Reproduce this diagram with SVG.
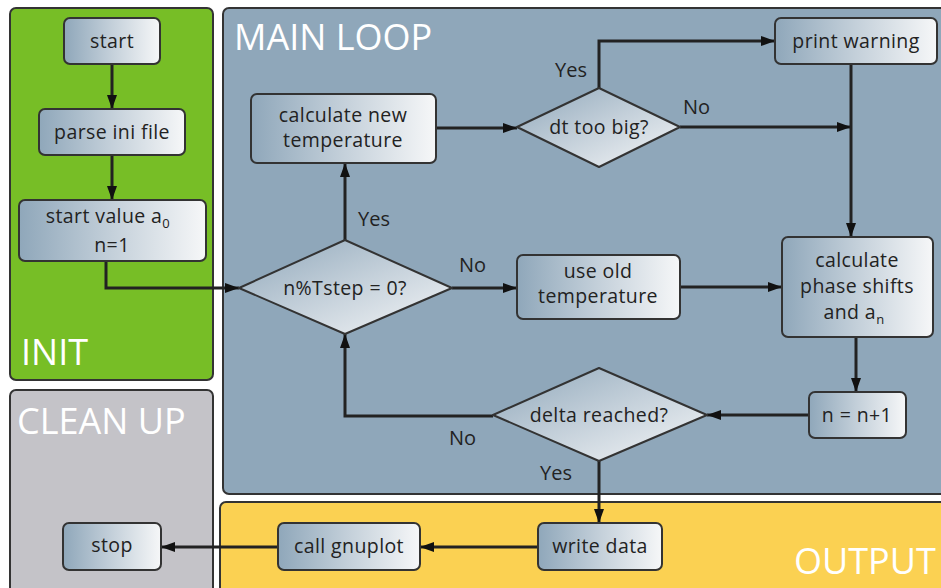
<svg xmlns="http://www.w3.org/2000/svg" width="941" height="588" viewBox="0 0 941 588">
<defs>
<linearGradient id="gbox" x1="0" y1="0" x2="1" y2="0">
<stop offset="0" stop-color="#8fa7ba"/><stop offset="0.5" stop-color="#c4d0da"/><stop offset="1" stop-color="#f6f7f8"/>
</linearGradient>
<linearGradient id="gdia" x1="0" y1="0" x2="1" y2="1">
<stop offset="0" stop-color="#8fa7ba"/><stop offset="0.5" stop-color="#c4d0da"/><stop offset="1" stop-color="#f6f7f8"/>
</linearGradient>
<marker id="ah" viewBox="0 0 14 10" refX="14" refY="5" markerWidth="14" markerHeight="10" markerUnits="userSpaceOnUse" orient="auto">
<path d="M0,0 L14,5 L0,10 Z" fill="#111"/>
</marker>
</defs>
<style>
.panel{stroke:#333;stroke-width:2}
.box{fill:url(#gbox);stroke:#333;stroke-width:2}
.dia{fill:url(#gdia);stroke:#333;stroke-width:2;stroke-linejoin:round}
.t{font-family:"Open Sans","DejaVu Sans",sans-serif;font-size:19.5px;letter-spacing:0.4px;fill:#222;text-anchor:middle}
.lbl{font-family:"Open Sans","DejaVu Sans",sans-serif;font-size:20px;fill:#222}
.ptitle{font-family:"Open Sans","DejaVu Sans",sans-serif;font-size:36px;fill:#fff}
.c{fill:none;stroke:#222;stroke-width:3;marker-end:url(#ah)}
.sub{font-size:13px}
</style>
<rect width="941" height="588" fill="#fff"/>
<g id="panels">
<rect class="panel" x="10" y="8" width="203" height="372" rx="6" fill="#77be26"/>
<rect class="panel" x="223" y="8" width="730" height="486" rx="6" fill="#8fa7ba"/>
<rect class="panel" x="10" y="390" width="203" height="210" rx="6" fill="#c4c3c8"/>
<rect class="panel" x="220" y="502" width="730" height="100" rx="6" fill="#fbd152"/>
<text class="ptitle" x="21" y="365">INIT</text>
<text class="ptitle" x="234" y="50">MAIN LOOP</text>
<text class="ptitle" x="17" y="434">CLEAN UP</text>
<text class="ptitle" x="794" y="574">OUTPUT</text>
</g>
<g id="connectors">
<path class="c" d="M112,64 V109"/>
<path class="c" d="M112,155 V200"/>
<path class="c" d="M106,261 V288 H239"/>
<path class="c" d="M345,240 V163"/>
<path class="c" d="M436,128 H517"/>
<path class="c" d="M599,88 V41 H775"/>
<path class="c" d="M680,127 H851"/>
<path class="c" d="M851,64 V237"/>
<path class="c" d="M452,288 H517"/>
<path class="c" d="M680,287 H782"/>
<path class="c" d="M856,337 V392"/>
<path class="c" d="M809,415 H707"/>
<path class="c" d="M493,416 H345 V334"/>
<path class="c" d="M599,461 V523"/>
<path class="c" d="M538,547 H420"/>
<path class="c" d="M278,547 H161"/>
<text class="lbl" x="358" y="226">Yes</text>
<text class="lbl" x="555" y="77">Yes</text>
<text class="lbl" x="683" y="114">No</text>
<text class="lbl" x="459" y="272">No</text>
<text class="lbl" x="449" y="445">No</text>
<text class="lbl" x="540" y="480">Yes</text>
</g>
<g id="n-start"><rect class="box" x="64" y="18" width="96" height="46" rx="6"/><text class="t" x="112" y="48">start</text></g>
<g id="n-parse"><rect class="box" x="39" y="109" width="146" height="46" rx="6"/><text class="t" x="112" y="139">parse ini file</text></g>
<g id="n-startval"><rect class="box" x="19" y="200" width="187" height="61" rx="6"/><text class="t" x="108" y="223">start value a<tspan class="sub" dy="5">0</tspan></text><text class="t" x="112" y="252">n=1</text></g>
<g id="n-calcnew"><rect class="box" x="251" y="94" width="185" height="69" rx="6"/><text class="t" x="343" y="122">calculate new</text><text class="t" x="343" y="147">temperature</text></g>
<g id="n-dt"><polygon class="dia" points="599,88 680,127 599,167 517,127"/><text class="t" x="599" y="134">dt too big?</text></g>
<g id="n-warn"><rect class="box" x="775" y="18" width="162" height="46" rx="6"/><text class="t" x="856" y="48">print warning</text></g>
<g id="n-tstep"><polygon class="dia" points="345,240 452,288 345,334 239,288"/><text class="t" x="345" y="295">n%Tstep = 0?</text></g>
<g id="n-useold"><rect class="box" x="517" y="255" width="163" height="64" rx="6"/><text class="t" x="598" y="278">use old</text><text class="t" x="598" y="303">temperature</text></g>
<g id="n-phase"><rect class="box" x="782" y="237" width="151" height="100" rx="6"/><text class="t" x="857" y="267">calculate</text><text class="t" x="857" y="293">phase shifts</text><text class="t" x="854" y="319">and a<tspan class="sub" dy="5">n</tspan></text></g>
<g id="n-inc"><rect class="box" x="809" y="392" width="97" height="46" rx="6"/><text class="t" x="857" y="422">n = n+1</text></g>
<g id="n-delta"><polygon class="dia" points="599,368 707,415 599,461 493,415"/><text class="t" x="599" y="422">delta reached?</text></g>
<g id="n-write"><rect class="box" x="538" y="523" width="124" height="47" rx="6"/><text class="t" x="600" y="553">write data</text></g>
<g id="n-gnuplot"><rect class="box" x="278" y="523" width="142" height="47" rx="6"/><text class="t" x="349" y="553">call gnuplot</text></g>
<g id="n-stop"><rect class="box" x="63" y="523" width="98" height="47" rx="6"/><text class="t" x="112" y="552">stop</text></g>
</svg>
